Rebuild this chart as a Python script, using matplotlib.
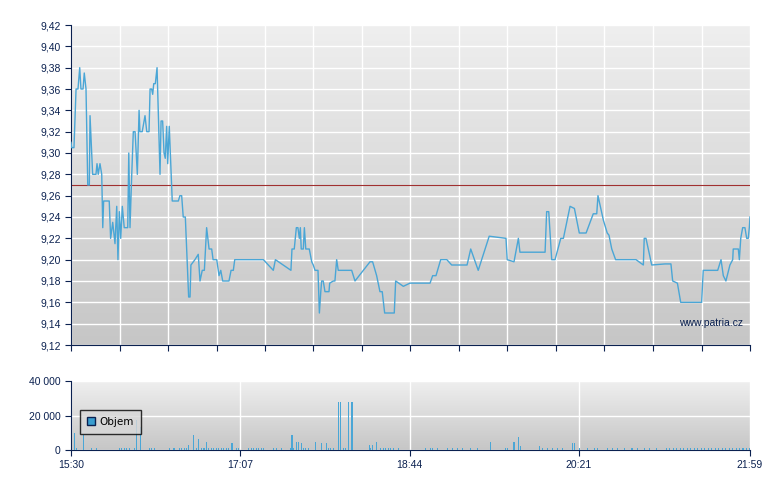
import matplotlib
matplotlib.use("Agg")
import matplotlib.pyplot as plt
import numpy as np
from matplotlib.patches import Patch
from matplotlib.ticker import FuncFormatter
from matplotlib.colors import LinearSegmentedColormap

# ---- data (minutes after 15:30) ----
price_t = [0, 0.4, 1.7, 2.9, 4.0, 5.0, 5.7, 6.9, 7.6, 8.6, 9.6, 10.5, 10.9, 12.4, 14.3, 14.9, 15.6, 16.6, 17.6, 18.2,
           18.7, 21.9, 22.7, 23.9, 25.2, 26.2, 26.9, 27.7, 28.5, 29.4, 30.5, 32.5, 33.1, 33.8, 34.8, 35.7, 36.7, 38.0,
           39.0, 39.5, 40.8, 42.4, 43.4, 44.7, 45.3, 46.2, 46.8, 47.4, 48.3, 49.3, 51.0, 51.6, 52.5, 53.3, 54.0, 54.8,
           55.4, 56.3, 58.0, 61.5, 62.4, 63.4, 64.3, 65.5, 67.4, 68.2, 68.7, 71.0, 72.9, 73.9, 75.2, 76.4, 77.7, 79.1,
           80.6, 81.4, 83.5, 84.8, 85.8, 86.9, 90.5, 91.7, 93.0, 93.8, 110.2, 115.9, 117.1, 126.0, 126.6, 127.9, 129.1,
           130.0, 130.8, 131.4, 131.9, 133.1, 133.7, 134.5, 136.5, 137.9, 138.8, 139.8, 141.5, 142.3, 143.1, 143.6,
           144.5, 145.5, 147.8, 148.2, 150.3, 151.2, 152.2, 153.1, 160.8, 162.7, 171.3, 172.8, 175.1, 177.0, 178.3,
           179.7, 182.8, 185.2, 186.0, 190.4, 194.2, 205.7, 207.2, 209.1, 211.8, 215.3, 218.1, 226.9, 229.0, 233.3,
           239.6, 249.2, 249.9, 253.8, 256.3, 257.2, 271.6, 272.5, 273.7, 275.4, 277.3, 280.6, 282.1, 285.9, 288.4,
           291.2, 295.1, 299.2, 301.2, 301.9, 305.0, 307.2, 308.2, 309.8, 312.0, 323.7, 327.9, 328.4, 329.4, 332.7,
           340.3, 343.7, 344.7, 347.4, 349.3, 361.3, 362.2, 370.5, 372.4, 373.7, 375.2, 377.5, 379.1, 379.4, 382.3,
           382.9, 383.7, 384.8, 386.1, 387.1, 388.0, 388.6, 389]
price_v = [9.31, 9.305, 9.305, 9.36, 9.36, 9.38, 9.36, 9.36, 9.375, 9.36, 9.27, 9.27, 9.335, 9.28, 9.28, 9.29, 9.28, 9.29,
           9.28, 9.23, 9.255, 9.255, 9.22, 9.235, 9.215, 9.25, 9.20, 9.245, 9.22, 9.25, 9.23, 9.23, 9.30, 9.23, 9.28,
           9.32, 9.32, 9.28, 9.34, 9.32, 9.32, 9.335, 9.32, 9.32, 9.36, 9.36, 9.355, 9.365, 9.365, 9.38, 9.28, 9.33,
           9.33, 9.30, 9.295, 9.325, 9.29, 9.325, 9.255, 9.255, 9.26, 9.26, 9.24, 9.24, 9.165, 9.165, 9.195, 9.20,
           9.205, 9.18, 9.19, 9.19, 9.23, 9.21, 9.21, 9.20, 9.20, 9.185, 9.19, 9.18, 9.18, 9.19, 9.19, 9.20, 9.20,
           9.19, 9.20, 9.19, 9.21, 9.21, 9.23, 9.23, 9.22, 9.23, 9.21, 9.21, 9.23, 9.21, 9.21, 9.198, 9.195, 9.19,
           9.19, 9.15, 9.17, 9.18, 9.18, 9.17, 9.17, 9.178, 9.18, 9.18, 9.20, 9.19, 9.19, 9.18, 9.198, 9.198, 9.185,
           9.17, 9.17, 9.15, 9.15, 9.15, 9.18, 9.175, 9.178, 9.178, 9.185, 9.185, 9.20, 9.20, 9.195, 9.195, 9.21,
           9.19, 9.222, 9.22, 9.20, 9.198, 9.22, 9.207, 9.207, 9.245, 9.245, 9.20, 9.20, 9.22, 9.22, 9.25, 9.248,
           9.225, 9.225, 9.243, 9.243, 9.26, 9.237, 9.225, 9.223, 9.21, 9.20, 9.20, 9.195, 9.22, 9.22, 9.195, 9.196,
           9.196, 9.18, 9.178, 9.16, 9.16, 9.19, 9.19, 9.20, 9.185, 9.18, 9.195, 9.20, 9.21, 9.21, 9.20, 9.22, 9.23,
           9.23, 9.22, 9.22, 9.23, 9.24]
prev_close = 9.27

big_vol_t = [2.0, 7.1, 37.6, 39.6, 67.5, 70.4, 73.3, 77.6, 91.8, 92.6, 126.6, 129.0, 130.4, 131.8, 140.0, 143.7,
             146.5, 153.2, 154.3, 159.2, 160.6, 161.2, 171.0, 173.0, 175.0, 240.2, 253.8, 256.4, 257.3, 268.6,
             287.2, 288.6]
big_vol_v = [9600, 8700, 17300, 13500, 2900, 8700, 6300, 4800, 4200, 4200, 8700, 4800, 4800, 4200, 4800, 4200,
             4200, 27900, 27900, 27900, 27900, 27900, 2900, 2900, 4800, 4800, 4800, 7700, 2400, 2400, 3800, 3800]
small_vol_t = [3.4, 12, 14.8, 27.7, 29.1, 30.5, 31.9, 33.4, 36.2, 44.8, 46.2, 47.6, 56.2, 59, 61.9, 63.3, 64.8, 66.2,
               71.9, 74.7, 76.2, 79, 80.4, 81.9, 83.3, 84.7, 86.2, 87.6, 89, 90.4, 94.7, 96.1, 101.8, 103.2, 104.7,
               106.1, 107.5, 108.9, 110.4, 116.1, 117.5, 120.4, 125.5, 127.5, 133.2, 134.6, 136, 147.4, 148.9, 150.3,
               156, 157.4, 171.7, 177.4, 178.8, 180.2, 181.7, 183.1, 184.5, 187.4, 203.1, 205.9, 207.3, 210.2, 215.9,
               218.7, 221.6, 224.5, 228.7, 233, 248.7, 250.1, 270.1, 272.9, 275.8, 278.6, 281.5, 291.5, 295.8, 300,
               301.5, 307.2, 310, 312.9, 317.1, 321.4, 324.3, 328.6, 331.4, 335.7, 341, 343, 345, 347, 349, 351, 353,
               355, 357, 359, 361, 363, 365, 367, 369, 371, 373, 375, 377, 379, 381, 383, 385, 387, 388.5]
small_vol_v = [1000] * len(small_vol_t)

y_ticks = [9.12, 9.14, 9.16, 9.18, 9.20, 9.22, 9.24, 9.26, 9.28, 9.30, 9.32, 9.34, 9.36, 9.38, 9.40, 9.42]
x_labels = ["15:30", "17:07", "18:44", "20:21", "21:59"]
x_label_pos = [0, 97, 194, 291, 389]
vol_ticks = [0, 20000, 40000]

NAVY = "#0b2150"
LINE = "#4aa6d6"

fig = plt.figure(figsize=(7.8, 4.9), dpi=100)
ax = fig.add_axes([71/780, 1-345/490, 679/780, 320/490])
axv = fig.add_axes([71/780, 1-450/490, 679/780, 69/490])

grad = np.linspace(0, 1, 256).reshape(-1, 1)
cmap = LinearSegmentedColormap.from_list("g", ["#efefef", "#c6c6c6"])
for a in (ax, axv):
    a.imshow(grad, extent=[0, 1, 0, 1], transform=a.transAxes, aspect="auto", cmap=cmap, zorder=0)
    a.set_xlim(0, 389)
    for s in ("top", "right"):
        a.spines[s].set_visible(False)
    for s in ("left", "bottom"):
        a.spines[s].set_color(NAVY)
    a.tick_params(colors=NAVY, labelcolor=NAVY, labelsize=7.5, length=4, direction="out")
    a.set_axisbelow(True)
    a.grid(True, color="white", linewidth=1.0, zorder=1)

ax.set_ylim(9.12, 9.42)
ax.set_yticks(y_ticks)
ax.yaxis.set_major_formatter(FuncFormatter(lambda v, p: f"{v:.2f}".replace(".", ",")))
ax.set_xticks(np.linspace(0, 389, 15))
ax.set_xticklabels([])
ax.plot(price_t, price_v, color=LINE, linewidth=1.0, zorder=3)
ax.axhline(prev_close, color="#a03030", linewidth=0.8, zorder=2)
ax.text(0.99, 0.07, "www.patria.cz", transform=ax.transAxes, ha="right", va="center",
        fontsize=7.5, color=NAVY, fontfamily="Liberation Sans")

axv.set_ylim(0, 40000)
axv.set_yticks(vol_ticks)
axv.yaxis.set_major_formatter(FuncFormatter(lambda v, p: f"{int(v):,}".replace(",", " ")))
axv.set_xticks(x_label_pos)
axv.set_xticklabels(x_labels)
axv.bar(big_vol_t, big_vol_v, width=0.6, color=LINE, zorder=3)
axv.bar(small_vol_t, small_vol_v, width=0.6, color=LINE, zorder=3)
leg = axv.legend(handles=[Patch(facecolor="#3a9ed0", edgecolor=NAVY, label="Objem")],
                 loc="upper left", bbox_to_anchor=(0.005, 0.66), fontsize=7.5, frameon=True,
                 fancybox=False, handlelength=0.8, handleheight=0.8, borderpad=0.7, handletextpad=0.4)
leg.get_frame().set_edgecolor("black")
leg.get_frame().set_facecolor("#d8d8d8")
for t in leg.get_texts():
    t.set_color("black")

for a in (ax, axv):
    for lab in a.get_xticklabels() + a.get_yticklabels():
        lab.set_fontfamily("Liberation Sans")

fig.savefig("out.png", dpi=100, facecolor="white")
